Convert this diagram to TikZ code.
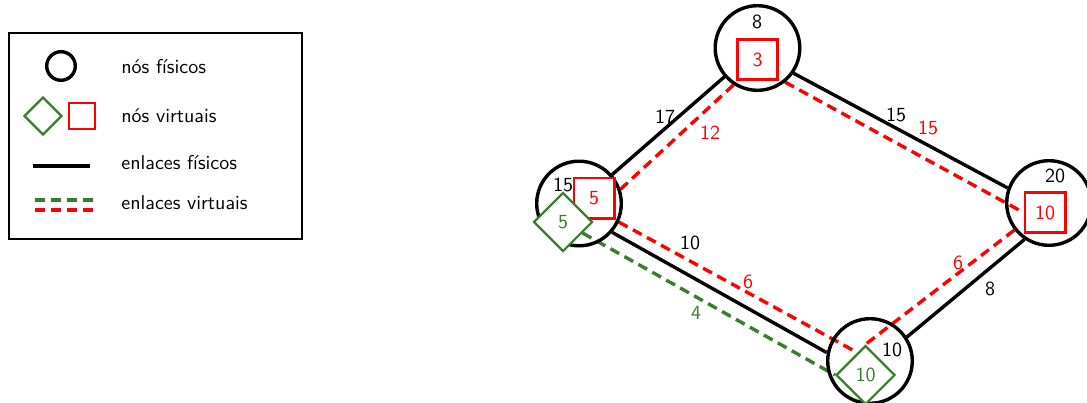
\documentclass[tikz,border=0pt]{standalone}
\usetikzlibrary{shapes.geometric}
\definecolor{vgreen}{RGB}{58,125,44}
\pgfdeclarelayer{background}
\pgfsetlayers{background,main}
\begin{document}
\begin{tikzpicture}[x=0.5pt,y=-0.5pt,font=\sffamily,
  phys/.style={circle,draw=black,line width=1.7pt,minimum size=42.3pt,inner sep=0pt},
  vsq/.style={rectangle,draw=red,line width=1.3pt,minimum size=20.2pt,inner sep=0pt,text=red,fill=white},
  vdia/.style={diamond,draw=vgreen,line width=1.1pt,minimum size=29.5pt,inner sep=0pt,text=vgreen,fill=white},
  plink/.style={line width=1.7pt,black},
  rlink/.style={line width=1.7pt,red,dash pattern=on 5pt off 3pt},
  glink/.style={line width=1.7pt,vgreen,dash pattern=on 5pt off 3pt},
  lbl/.style={inner sep=1pt},
  legtext/.style={anchor=base west,inner sep=0pt}]
\useasboundingbox (0,0) rectangle (1087,402);

% legend
\node[draw,line width=1pt,minimum width=146.5pt,minimum height=103pt,inner sep=0pt] (legend) at (155,135.5) {};
\node[circle,draw,line width=1.7pt,minimum size=14.3pt,inner sep=0pt] (lc) at (61,66) {};
\node[diamond,draw=vgreen,line width=1.1pt,minimum size=19pt,inner sep=0pt] (ld) at (43,116) {};
\node[rectangle,draw=red,line width=1.3pt,minimum size=13pt,inner sep=0pt] (lsq) at (82,116) {};
\coordinate (lp1) at (33,166); \coordinate (lp2) at (90,166);
\coordinate (lg1) at (35,200); \coordinate (lg2) at (96,200);
\coordinate (lr1) at (35,210); \coordinate (lr2) at (96,210);
\draw[plink] (lp1) -- (lp2);
\draw[glink] (lg1) -- (lg2);
\draw[rlink] (lr1) -- (lr2);
\node[legtext] (t1) at (121,73) {nós físicos};
\node[legtext] (t2) at (121,122) {nós virtuais};
\node[legtext] (t3) at (121,169) {enlaces físicos};
\node[legtext] (t4) at (121,209) {enlaces virtuais};

% physical nodes
\node[phys] (pt) at (757.5,48) {};
\node[phys] (pl) at (579,203.5) {};
\node[phys] (pr) at (1049,203) {};
\node[phys] (pb) at (870,361) {};
\node[lbl] (ct) at (757,22) {8};
\node[lbl] (cl) at (563,185) {15};
\node[lbl] (cr) at (1055,176) {20};
\node[lbl] (cb) at (892,350) {10};

% virtual nodes
\node[vsq] (vt) at (757.5,59.5) {3};
\node[vsq] (vl) at (594,198) {5};
\node[vsq] (vr) at (1045,212.5) {10};
\node[vdia] (vld) at (563,222) {5};
\node[vdia] (vbd) at (865.5,375) {10};

\begin{pgfonlayer}{background}
\draw[plink] (pt) -- (pl);
\draw[plink] (pt.-35) -- (pr.160);
\draw[plink] (pl.-41) -- (pb.169);
\draw[plink] (pr.236) -- (pb.33);
\draw[rlink] (pt.237.5) -- (pl.19);
\draw[rlink] (pt.-51) -- (vr.west);
\draw[rlink] (pl.-25) -- (vbd.110);
\draw[rlink] (pr.218) -- (vbd.north);
\draw[glink] (vld) -- (vbd.west);
\end{pgfonlayer}

% link labels
\node[lbl] (e1) at (665,117) {17};
\node[lbl,text=red] (e2) at (710,133) {12};
\node[lbl] (e3) at (896,115) {15};
\node[lbl,text=red] (e4) at (928,128) {15};
\node[lbl] (e5) at (690,243) {10};
\node[lbl,text=red] (e6) at (748,282) {6};
\node[lbl,text=vgreen] (e7) at (696,313) {4};
\node[lbl,text=red] (e8) at (958,263) {6};
\node[lbl] (e9) at (990,289) {8};
\end{tikzpicture}
\end{document}
